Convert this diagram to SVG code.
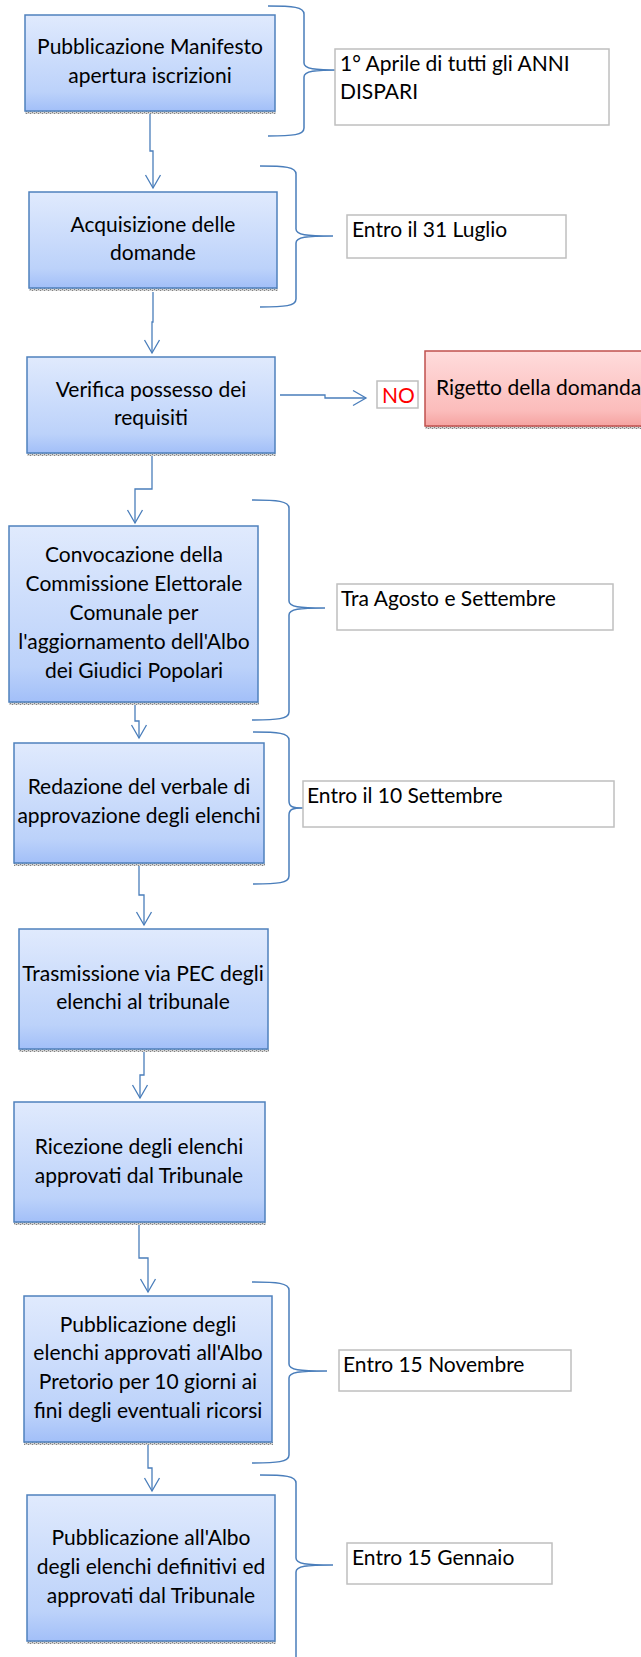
<svg xmlns="http://www.w3.org/2000/svg" width="641" height="1657" viewBox="0 0 641 1657">
<style>
.box{fill:url(#blueGrad);stroke:#4f81bd;stroke-width:1.5}
.rbox{fill:url(#redGrad);stroke:#c0504d;stroke-width:1.5}
.shadow{fill:url(#checker)}
.conn{fill:none;stroke:#4a7ebb;stroke-width:1.3;marker-end:url(#arrow)}
.brace{fill:none;stroke:#4a7ebb;stroke-width:1.5}
.note{fill:#fff;stroke:#bfbfbf;stroke-width:1.5}
text{font-family:Lato,"Liberation Sans",sans-serif;font-size:21px;fill:#000}
.c{text-anchor:middle}
.red{fill:#ff0000}
</style>
<defs>
<linearGradient id="blueGrad" x1="0" y1="0" x2="0" y2="1">
<stop offset="0" stop-color="#e0eafd"/>
<stop offset="0.8" stop-color="#bcd2fa"/>
<stop offset="1" stop-color="#a2bff8"/>
</linearGradient>
<linearGradient id="redGrad" x1="0" y1="0" x2="0" y2="1">
<stop offset="0" stop-color="#ffdcdc"/>
<stop offset="0.8" stop-color="#fbbcbb"/>
<stop offset="1" stop-color="#f5a3a1"/>
</linearGradient>
<pattern id="checker" width="4" height="2" patternUnits="userSpaceOnUse">
<rect width="4" height="2" fill="#d4d4d4"/>
<rect width="1" height="1" fill="#808080"/>
<rect x="2" y="1" width="1" height="1" fill="#808080"/>
</pattern>
<marker id="arrow" viewBox="-15 -9 17 18" markerWidth="17" markerHeight="18" refX="0" refY="0" orient="auto" markerUnits="userSpaceOnUse">
<path d="M-13,-7.5 L0,0 L-13,7.5" fill="none" stroke="#4a7ebb" stroke-width="1.3"/>
</marker>
</defs>

<g id="connectors">
<polyline class="conn" points="150,114 150,151 153,151 153,188"/>
<polyline class="conn" points="153,292 153,322 152,322 152,353"/>
<polyline class="conn" points="280,395 325,395 325,398 366,398"/>
<polyline class="conn" points="152,456 152,489 135,489 135,523"/>
<polyline class="conn" points="135,705 135,721 139,721 139,738"/>
<polyline class="conn" points="139,866 139,895 144,895 144,925"/>
<polyline class="conn" points="144,1052 144,1075 140,1075 140,1098"/>
<polyline class="conn" points="139,1225 139,1258 148,1258 148,1292"/>
<polyline class="conn" points="148,1445 148,1468 152,1468 152,1491"/>
</g>

<g id="braces">
<path class="brace" d="M268,6 C293,6 304,7 304,14 L304,63 C304,69 314,70 341,70 C314,70 304,71 304,77 L304,128 C304,135 293,136 268,136"/>
<path class="brace" d="M260,166 C285,166 296,167 296,174 L296,229 C296,235 306,236 333,236 C306,236 296,237 296,243 L296,299 C296,306 285,307 260,307"/>
<path class="brace" d="M252,500 C277,500 289,501 289,508 L289,601 C289,607 299,608 325,608 C299,608 289,609 289,615 L289,712 C289,719 277,720 252,720"/>
<path class="brace" d="M253,732 C278,732 289,733 289,740 L289,801 C289,807 293,808 303,808 C293,808 289,809 289,815 L289,876 C289,883 278,884 253,884"/>
<path class="brace" d="M252,1282 C277,1282 289,1283 289,1290 L289,1364 C289,1370 299,1371 327,1371 C299,1371 289,1372 289,1378 L289,1455 C289,1462 277,1463 252,1463"/>
<path class="brace" d="M260,1475 C285,1475 296,1476 296,1483 L296,1558 C296,1564 306,1565 333,1565 C306,1565 296,1566 296,1572 L296,1660"/>
</g>

<g id="n1">
<rect class="shadow" x="25" y="111" width="251" height="3"/>
<rect class="box" x="25" y="15" width="250" height="96"/>
<text class="c" x="150" y="54">Pubblicazione Manifesto</text>
<text class="c" x="150" y="83">apertura iscrizioni</text>
</g>
<g id="t1">
<rect class="note" x="335" y="49" width="274" height="76"/>
<text x="340" y="71">1° Aprile di tutti gli ANNI</text>
<text x="340" y="99">DISPARI</text>
</g>

<g id="n2">
<rect class="shadow" x="29" y="288" width="249" height="3"/>
<rect class="box" x="29" y="192" width="248" height="96"/>
<text class="c" x="153" y="232">Acquisizione delle</text>
<text class="c" x="153" y="260">domande</text>
</g>
<g id="t2">
<rect class="note" x="347" y="215" width="219" height="43"/>
<text x="352" y="237">Entro il 31 Luglio</text>
</g>

<g id="n3">
<rect class="shadow" x="27" y="453" width="249" height="3"/>
<rect class="box" x="27" y="357" width="248" height="96"/>
<text class="c" x="151" y="397">Verifica possesso dei</text>
<text class="c" x="151" y="425">requisiti</text>
</g>

<g id="no">
<rect class="note" x="377" y="381" width="41" height="27"/>
<text class="red" x="382" y="403">NO</text>
</g>

<g id="reject">
<rect class="shadow" x="425" y="426" width="220" height="3"/>
<rect class="rbox" x="425" y="351" width="230" height="75"/>
<text x="436" y="395">Rigetto della domanda</text>
</g>

<g id="n4">
<rect class="shadow" x="9" y="702" width="250" height="3"/>
<rect class="box" x="9" y="526" width="249" height="176"/>
<text class="c" x="134" y="562">Convocazione della</text>
<text class="c" x="134" y="591">Commissione Elettorale</text>
<text class="c" x="134" y="620">Comunale per</text>
<text class="c" x="134" y="649">l'aggiornamento dell'Albo</text>
<text class="c" x="134" y="678">dei Giudici Popolari</text>
</g>
<g id="t4">
<rect class="note" x="337" y="584" width="276" height="46"/>
<text x="341" y="606">Tra Agosto e Settembre</text>
</g>

<g id="n5">
<rect class="shadow" x="14" y="863" width="251" height="3"/>
<rect class="box" x="14" y="743" width="250" height="120"/>
<text class="c" x="139" y="794">Redazione del verbale di</text>
<text class="c" x="139" y="823">approvazione degli elenchi</text>
</g>
<g id="t5">
<rect class="note" x="303" y="781" width="311" height="46"/>
<text x="307" y="803">Entro il 10 Settembre</text>
</g>

<g id="n6">
<rect class="shadow" x="19" y="1049" width="250" height="3"/>
<rect class="box" x="19" y="929" width="249" height="120"/>
<text class="c" x="143" y="981">Trasmissione via PEC degli</text>
<text class="c" x="143" y="1009">elenchi al tribunale</text>
</g>

<g id="n7">
<rect class="shadow" x="14" y="1222" width="252" height="3"/>
<rect class="box" x="14" y="1102" width="251" height="120"/>
<text class="c" x="139" y="1154">Ricezione degli elenchi</text>
<text class="c" x="139" y="1183">approvati dal Tribunale</text>
</g>

<g id="n8">
<rect class="shadow" x="24" y="1442" width="249" height="3"/>
<rect class="box" x="24" y="1296" width="248" height="146"/>
<text class="c" x="148" y="1332">Pubblicazione degli</text>
<text class="c" x="148" y="1360">elenchi approvati all'Albo</text>
<text class="c" x="148" y="1389">Pretorio per 10 giorni ai</text>
<text class="c" x="148" y="1418">fini degli eventuali ricorsi</text>
</g>
<g id="t8">
<rect class="note" x="339" y="1350" width="232" height="41"/>
<text x="343" y="1372">Entro 15 Novembre</text>
</g>

<g id="n9">
<rect class="shadow" x="27" y="1641" width="249" height="3"/>
<rect class="box" x="27" y="1495" width="248" height="146"/>
<text class="c" x="151" y="1545">Pubblicazione all'Albo</text>
<text class="c" x="151" y="1574">degli elenchi definitivi ed</text>
<text class="c" x="151" y="1603">approvati dal Tribunale</text>
</g>
<g id="t9">
<rect class="note" x="347" y="1543" width="205" height="41"/>
<text x="352" y="1565">Entro 15 Gennaio</text>
</g>
</svg>
